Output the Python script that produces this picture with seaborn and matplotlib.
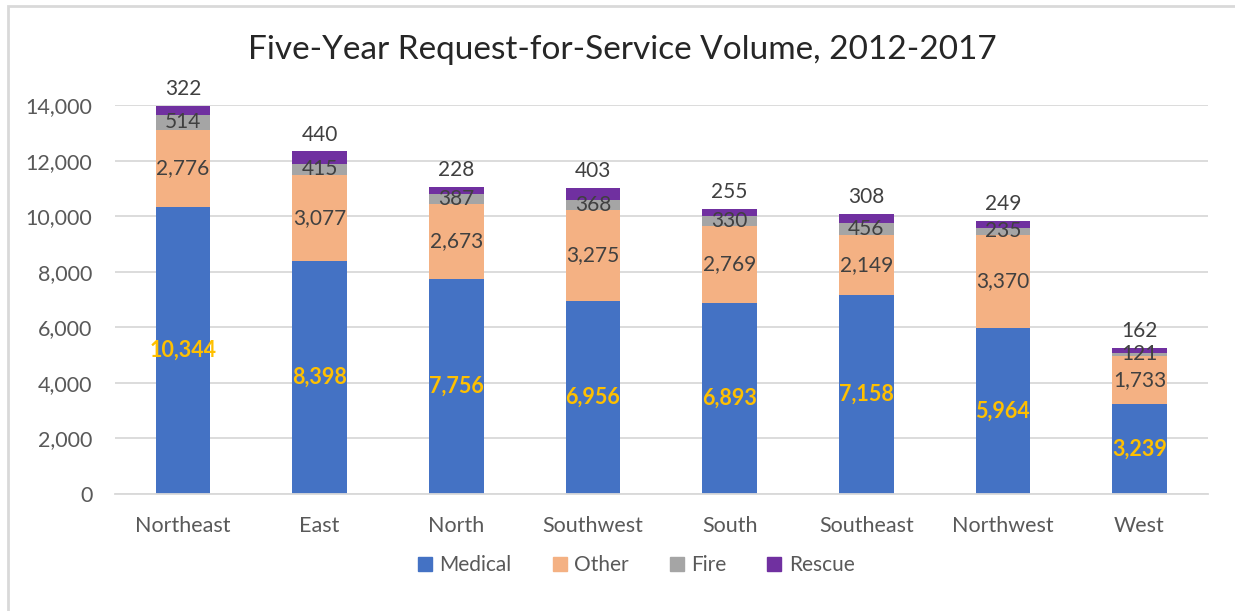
import matplotlib
matplotlib.use("Agg")
import matplotlib.pyplot as plt
from matplotlib.patches import Rectangle
from matplotlib.lines import Line2D
import seaborn as sns
import pandas as pd
import numpy as np

# Request-for-service counts by district, 2012-2017
districts = ["Northeast", "East", "North", "Southwest", "South", "Southeast", "Northwest", "West"]
medical = [10344, 8398, 7756, 6956, 6893, 7158, 5964, 3239]
other = [2776, 3077, 2673, 3275, 2769, 2149, 3370, 1733]
fire = [514, 415, 387, 368, 330, 456, 235, 121]
rescue = [322, 440, 228, 403, 255, 308, 249, 162]

series_names = ["Medical", "Other", "Fire", "Rescue"]
series_values = [medical, other, fire, rescue]
colors = ["#4472C4", "#F4B183", "#A5A5A5", "#7030A0"]
y_ticks = [0, 2000, 4000, 6000, 8000, 10000, 12000, 14000]

sns.set_theme(style="white")
plt.rcParams["font.family"] = ["Lato", "DejaVu Sans"]

text_col = "#595959"
label_col = "#404040"
grid_col = "#D9D9D9"

fig = plt.figure(figsize=(12.35, 6.11), dpi=100)
ax = fig.add_axes([0.0929, 0.1915, 0.8851, 0.6365])

# Build stacked bars by drawing cumulative totals, tallest layer first
df = pd.DataFrame({"District": districts})
cum = np.zeros(len(districts))
cums = []
for name, vals in zip(series_names, series_values):
    cum = cum + np.array(vals)
    cums.append(cum.copy())
    df[name + "_top"] = cum.copy()

for name, col, top in reversed(list(zip(series_names, colors, cums))):
    sns.barplot(data=df, x="District", y=name + "_top", color=col, width=0.4,
                saturation=1, ax=ax, edgecolor="none", linewidth=0, zorder=2)

# Segment labels
bottoms = np.zeros(len(districts))
for name, vals in zip(series_names, series_values):
    vals = np.array(vals)
    for i, v in enumerate(vals):
        if name == "Rescue":
            ax.annotate(f"{v:,}", xy=(i, bottoms[i] + v), xytext=(0, 5),
                        textcoords="offset points", ha="center", va="bottom",
                        fontsize=15, color=label_col, zorder=5)
        elif name == "Medical":
            ax.text(i, bottoms[i] + v / 2, f"{v:,}", ha="center", va="center",
                    fontsize=15.5, color="#FFC000", fontweight="bold", zorder=5)
        else:
            ax.text(i, bottoms[i] + v / 2, f"{v:,}", ha="center", va="center",
                    fontsize=15, color=label_col, zorder=5)
    bottoms = bottoms + vals

ax.set_ylim(0, 14000)
ax.set_xlim(-0.5, len(districts) - 0.5)
ax.set_yticks(y_ticks)
ax.set_yticklabels([f"{t:,}" for t in y_ticks])
ax.yaxis.grid(True, color=grid_col, linewidth=1.3, zorder=0)
ax.set_axisbelow(True)
ax.set_xlabel("")
ax.set_ylabel("")
for s in ["top", "right", "left"]:
    ax.spines[s].set_visible(False)
ax.spines["bottom"].set_color(grid_col)
ax.spines["bottom"].set_linewidth(1.3)
ax.tick_params(axis="both", length=0, colors=text_col, labelsize=15.5)
ax.tick_params(axis="x", pad=16)
ax.tick_params(axis="y", pad=16)

fig.suptitle("Five-Year Request-for-Service Volume, 2012-2017", fontsize=24,
             color="#262626", x=0.504, y=1 - 50 / 611, va="center")

handles = [Line2D([0], [0], marker="s", linestyle="none", markersize=10,
                  markerfacecolor=c, markeredgecolor=c, label=n)
           for n, c in zip(series_names, colors)]
fig.legend(handles=handles, loc="center", bbox_to_anchor=(0.513, 0.075), ncol=4,
           frameon=False, fontsize=15, labelcolor=text_col, columnspacing=1.7,
           handletextpad=0.1, handlelength=1.2)

# Chart frame
fig.add_artist(Rectangle((8 / 1235, -0.1), 1.2, 1.1 - 5.5 / 611, transform=fig.transFigure,
                         fill=False, edgecolor="#D9D9D9", linewidth=2))

fig.savefig("out.png", dpi=100, facecolor="white")
